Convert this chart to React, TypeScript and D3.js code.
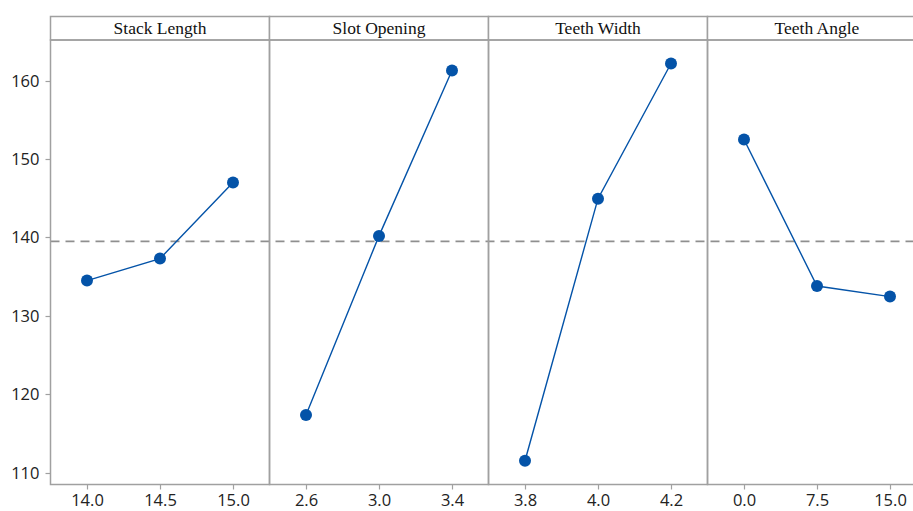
import React, { useEffect, useRef } from "react";
import * as d3 from "d3";

// Main effects for the response mean, one panel per factor
const factors = ["Stack Length", "Slot Opening", "Teeth Width", "Teeth Angle"];
const stackLengthLevels = ["14.0", "14.5", "15.0"];
const stackLengthMeans = [134.5, 137.3, 147.0];
const slotOpeningLevels = ["2.6", "3.0", "3.4"];
const slotOpeningMeans = [117.35, 140.2, 161.3];
const teethWidthLevels = ["3.8", "4.0", "4.2"];
const teethWidthMeans = [111.5, 144.95, 162.2];
const teethAngleLevels = ["0.0", "7.5", "15.0"];
const teethAngleMeans = [152.5, 133.8, 132.45];
const grandMean = 139.5;
const yTicks = [110, 120, 130, 140, 150, 160];

const W = 913;
const H = 511;

export default function App() {
  const ref = useRef<SVGSVGElement | null>(null);

  useEffect(() => {
    const svg = d3.select(ref.current);
    svg.selectAll("*").remove();

    const left = 50.5;
    const panelW = 219;
    const top = 16.5;
    const stripH = 23.5;
    const plotTop = top + stripH;
    const bottom = 484.5;
    const frame = "#a0a0a0";
    const textColor = "#222";
    const blue = "#0453a8";
    const sans = "'Open Sans', 'Noto Sans', sans-serif";

    const levels = [stackLengthLevels, slotOpeningLevels, teethWidthLevels, teethAngleLevels];
    const means = [stackLengthMeans, slotOpeningMeans, teethWidthMeans, teethAngleMeans];

    const y = d3.scaleLinear().domain([108.47, 165.2]).range([bottom, plotTop]);

    const g = svg.append("g");

    // y axis ticks and labels
    const yAxis = g.append("g");
    yTicks.forEach((t) => {
      const yy = Math.round(y(t)) + 0.5;
      yAxis.append("line").attr("x1", left - 5).attr("x2", left).attr("y1", yy).attr("y2", yy)
        .attr("stroke", frame).attr("stroke-width", 1.2);
      yAxis.append("text").attr("x", left - 11).attr("y", yy).attr("dy", "0.35em")
        .attr("text-anchor", "end").attr("font-family", sans)
        .attr("font-size", 16.5).attr("fill", textColor).text(String(t));
    });

    // grand mean reference line
    g.append("line").attr("x1", left).attr("x2", left + panelW * 4).attr("y1", y(grandMean)).attr("y2", y(grandMean))
      .attr("stroke", "#8f8f8f").attr("stroke-width", 1.6).attr("stroke-dasharray", "9,6");

    factors.forEach((name, i) => {
      const x0 = left + panelW * i;
      const x = d3.scaleBand<string>().domain(levels[i]).range([x0, x0 + panelW]).paddingInner(0).paddingOuter(0);
      const cx = (l: string) => (x(l) as number) + x.bandwidth() / 2;

      // strip header
      g.append("rect").attr("x", x0).attr("y", top).attr("width", panelW).attr("height", stripH)
        .attr("fill", "white").attr("stroke", frame).attr("stroke-width", 1.5);
      g.append("text").attr("x", x0 + panelW / 2).attr("y", top + 17)
        .attr("text-anchor", "middle").attr("font-family", "'Liberation Serif', 'Times New Roman', serif")
        .attr("font-size", 17.5).attr("fill", "#111").text(name);

      // panel frame
      g.append("rect").attr("x", x0).attr("y", plotTop).attr("width", panelW).attr("height", bottom - plotTop)
        .attr("fill", "none").attr("stroke", frame).attr("stroke-width", 1.5);

      // x ticks
      levels[i].forEach((l) => {
        const xx = Math.round(cx(l)) + 0.5;
        g.append("line").attr("x1", xx).attr("x2", xx).attr("y1", bottom).attr("y2", bottom + 5)
          .attr("stroke", frame).attr("stroke-width", 1.2);
        g.append("text").attr("x", xx).attr("y", bottom + 21.5)
          .attr("text-anchor", "middle").attr("font-family", sans)
          .attr("font-size", 16.5).attr("fill", textColor).text(l);
      });

      const pts = levels[i].map((l, k) => [cx(l), y(means[i][k])] as [number, number]);
      g.append("path").attr("d", d3.line()(pts)).attr("fill", "none")
        .attr("stroke", blue).attr("stroke-width", 1.4);
      pts.forEach(([px, py]) => {
        g.append("circle").attr("cx", px).attr("cy", py).attr("r", 6).attr("fill", blue);
      });
    });

    // keep the effect lines and markers above the frames and reference line
    g.selectAll("path, circle").raise();
  }, []);

  return (
    <svg
      ref={ref}
      width={W}
      height={H}
      style={{ position: "absolute", left: 0, top: 0, background: "white" }}
    />
  );
}
